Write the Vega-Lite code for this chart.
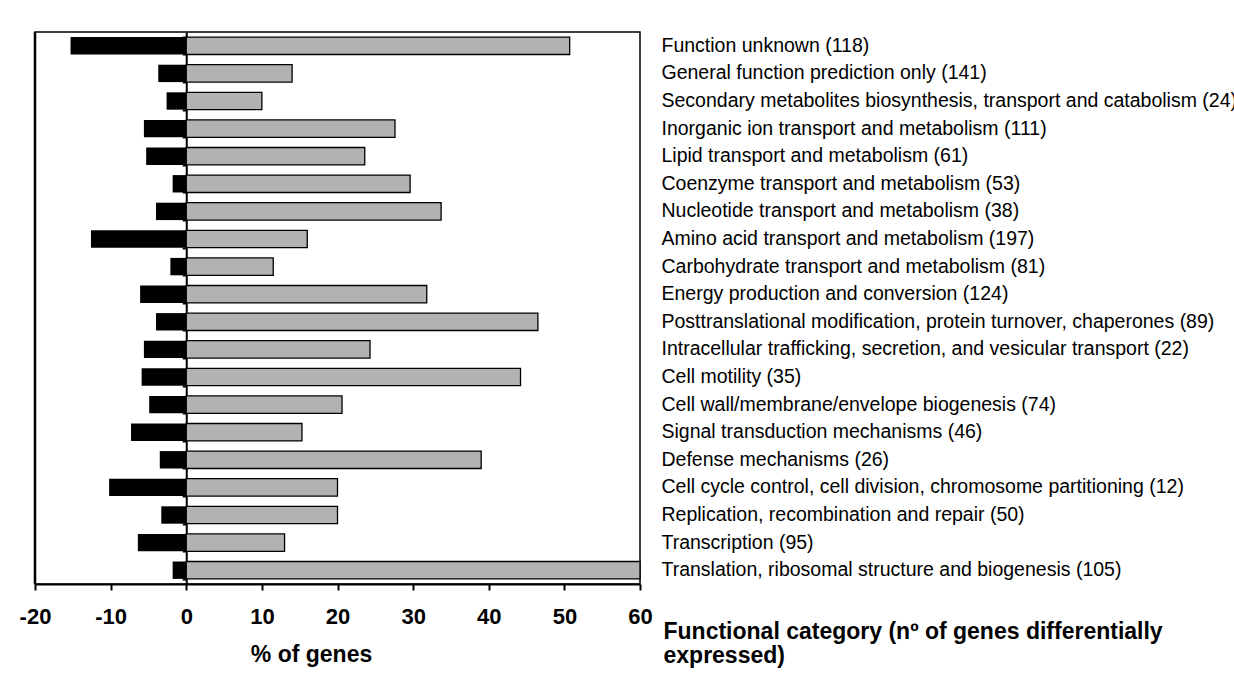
{
  "$schema": "https://vega.github.io/schema/vega-lite/v6.json",
  "width": 605,
  "height": 552,
  "autosize": {"type": "none"},
  "padding": {"left": 35, "top": 32, "right": 594, "bottom": 97},
  "background": "white",
  "config": {
    "view": {"stroke": "black", "strokeWidth": 1.5},
    "font": "Liberation Sans"
  },
  "data": {
    "values": [
      {"category": "Function unknown (118)", "down": -15.3, "up": 50.7},
      {"category": "General function prediction only (141)", "down": -3.7, "up": 14.0},
      {"category": "Secondary metabolites biosynthesis, transport and catabolism (24)", "down": -2.6, "up": 10.0},
      {"category": "Inorganic ion transport and metabolism (111)", "down": -5.6, "up": 27.6},
      {"category": "Lipid transport and metabolism (61)", "down": -5.3, "up": 23.6},
      {"category": "Coenzyme transport and metabolism (53)", "down": -1.8, "up": 29.6},
      {"category": "Nucleotide transport and metabolism (38)", "down": -4.0, "up": 33.7},
      {"category": "Amino acid transport and metabolism (197)", "down": -12.6, "up": 16.0},
      {"category": "Carbohydrate transport and metabolism (81)", "down": -2.1, "up": 11.5},
      {"category": "Energy production and conversion (124)", "down": -6.1, "up": 31.8},
      {"category": "Posttranslational modification, protein turnover, chaperones (89)", "down": -4.0, "up": 46.5},
      {"category": "Intracellular trafficking, secretion, and vesicular transport (22)", "down": -5.6, "up": 24.3},
      {"category": "Cell motility (35)", "down": -5.9, "up": 44.2},
      {"category": "Cell wall/membrane/envelope biogenesis (74)", "down": -4.9, "up": 20.6},
      {"category": "Signal transduction mechanisms (46)", "down": -7.3, "up": 15.3},
      {"category": "Defense mechanisms (26)", "down": -3.5, "up": 39.0},
      {"category": "Cell cycle control, cell division, chromosome partitioning (12)", "down": -10.2, "up": 20.0},
      {"category": "Replication, recombination and repair (50)", "down": -3.3, "up": 20.0},
      {"category": "Transcription (95)", "down": -6.4, "up": 13.0},
      {"category": "Translation, ribosomal structure and biogenesis (105)", "down": -1.8, "up": 60.0}
    ]
  },
  "layer": [
    {
      "mark": {"type": "bar", "color": "black"},
      "encoding": {
        "y": {
          "field": "category", "type": "nominal", "sort": null,
          "scale": {"paddingInner": 0.37, "paddingOuter": 0.185},
          "axis": {
            "orient": "left", "offset": -151.25, "labels": false, "title": null,
            "domainColor": "black", "domainWidth": 2,
            "tickBand": "extent", "tickSize": 4, "tickWidth": 2, "tickColor": "black"
          }
        },
        "x": {
          "field": "down", "type": "quantitative",
          "scale": {"domain": [-20, 60], "nice": false, "zero": false},
          "axis": {
            "values": [-20, -10, 0, 10, 20, 30, 40, 50, 60],
            "labelExpr": "datum.value < 0 ? '-' + abs(datum.value) : '' + datum.value",
            "grid": false,
            "domainColor": "black", "domainWidth": 2,
            "tickColor": "black", "tickWidth": 2, "tickSize": 6,
            "labelFontSize": 22, "labelFontWeight": "bold", "labelColor": "black",
            "labelPadding": 16, "labelFlush": false, "labelOverlap": false,
            "title": "% of genes", "titleFontSize": 23, "titleFontWeight": "bold", "titleColor": "black",
            "titleX": 276, "titleY": 77, "titleBaseline": "alphabetic", "titleAlign": "center"
          }
        }
      }
    },
    {
      "mark": {"type": "bar", "color": "#b2b2b2", "stroke": "black", "strokeWidth": 1.3},
      "encoding": {
        "y": {
          "field": "category", "type": "nominal", "sort": null,
          "axis": {
            "orient": "right", "domain": false, "ticks": false,
            "labelFont": "Liberation Sans", "labelFontSize": 19.5, "labelColor": "black",
            "labelPadding": 21, "labelLimit": 1000,
            "title": ["Functional category (nº of genes differentially", "expressed)"],
            "titleFontSize": 23, "titleFontWeight": "bold", "titleColor": "black",
            "titleAngle": 0, "titleAlign": "left", "titleBaseline": "alphabetic",
            "titleX": 23, "titleY": 606, "titleLineHeight": 24
          }
        },
        "x": {"field": "up", "type": "quantitative"}
      }
    },
    {
      "data": {"values": [{"edge": -20}]},
      "mark": {"type": "rule", "color": "black", "strokeWidth": 2.5},
      "encoding": {"x": {"field": "edge", "type": "quantitative"}}
    }
  ],
  "resolve": {"axis": {"y": "independent"}}
}
